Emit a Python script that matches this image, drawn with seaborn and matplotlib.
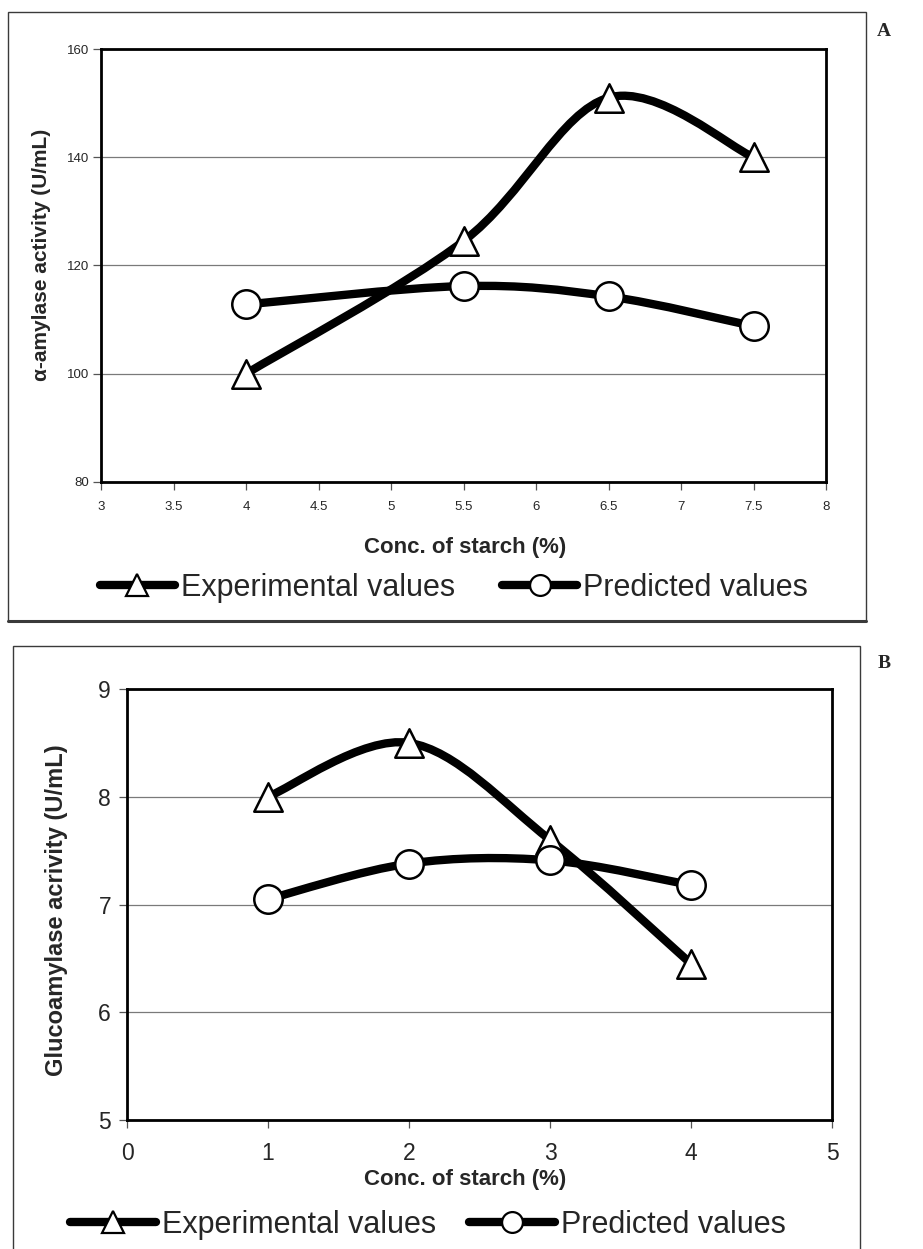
import numpy as np
import pandas as pd
import matplotlib
matplotlib.use("Agg")
import matplotlib.pyplot as plt
import seaborn as sns
from matplotlib.path import Path
from matplotlib.patches import PathPatch, Rectangle
from matplotlib.lines import Line2D

# ---- data -------------------------------------------------------------
starch_a = [4.0, 5.5, 6.5, 7.5]
amylase_exp = [100.0, 124.5, 151.0, 140.0]
amylase_pred = [112.8, 116.2, 114.3, 108.8]

starch_b = [1.0, 2.0, 3.0, 4.0]
gluco_exp = [8.0, 8.5, 7.6, 6.45]
gluco_pred = [7.05, 7.38, 7.41, 7.18]

xticks_a = [3, 3.5, 4, 4.5, 5, 5.5, 6, 6.5, 7, 7.5, 8]
xticklabels_a = ["3", "3.5", "4", "4.5", "5", "5.5", "6", "6.5", "7", "7.5", "8"]
yticks_a = [80, 100, 120, 140, 160]
xticks_b = [0, 1, 2, 3, 4, 5]
yticks_b = [5, 6, 7, 8, 9]

series_names = ["Experimental values", "Predicted values"]

# ---- style ------------------------------------------------------------
sns.set_theme(style="white")
plt.rcParams["font.family"] = ["Liberation Sans", "DejaVu Sans"]

W, H = 923, 1249
fig = plt.figure(figsize=(W / 100, H / 100), dpi=100)

LINE_W = 6.0      # curve width, points
MARK_S = 420      # marker area
MARK_EW = 1.8


def smooth_path(xs, ys, t=1.0 / 6.0):
    """Cubic Bezier path through the points (Catmull-Rom style smoothing)."""
    p = np.column_stack([xs, ys]).astype(float)
    n = len(p)
    verts = [p[0]]
    codes = [Path.MOVETO]
    for i in range(n - 1):
        p_prev = p[i - 1] if i > 0 else p[i]
        p_next2 = p[i + 2] if i + 2 < n else p[i + 1]
        c1 = p[i] + (p[i + 1] - p_prev) * t
        c2 = p[i + 1] - (p_next2 - p[i]) * t
        verts += [c1, c2, p[i + 1]]
        codes += [Path.CURVE4] * 3
    return Path(verts, codes)


def px_axes(left, top, right, bottom):
    return fig.add_axes([left / W, 1 - bottom / H, (right - left) / W, (bottom - top) / H])


def draw_panel(ax, xs, exp, pred, xlim, ylim, xticks, xticklabels, yticks,
               tick_fs, xpad, ypad, ylabel, ylabel_fs, ylabel_xy, xlabel_fs, xlabel_xy):
    df = pd.DataFrame({"x": xs, "exp": exp, "pred": pred})
    for col in ["exp", "pred"]:
        ax.add_patch(PathPatch(smooth_path(df["x"], df[col]), fill=False,
                               edgecolor="black", lw=LINE_W, capstyle="round",
                               joinstyle="round", zorder=3))
    sns.scatterplot(data=df, x="x", y="exp", marker="^", s=MARK_S, color="white",
                    edgecolor="black", linewidth=MARK_EW, zorder=4, ax=ax, legend=False)
    sns.scatterplot(data=df, x="x", y="pred", marker="o", s=MARK_S, color="white",
                    edgecolor="black", linewidth=MARK_EW, zorder=4, ax=ax, legend=False)
    ax.set_xlim(*xlim)
    ax.set_ylim(*ylim)
    ax.set_xticks(xticks)
    ax.set_xticklabels(xticklabels)
    ax.set_yticks(yticks)
    ax.grid(axis="y", color="#7a7a7a", lw=0.9)
    ax.grid(axis="x", visible=False)
    ax.set_axisbelow(True)
    for s in ax.spines.values():
        s.set_visible(True)
        s.set_color("black")
        s.set_linewidth(2.0)
    ax.tick_params(axis="both", which="major", direction="out", length=5.5, width=0.9,
                   color="#555555", labelsize=tick_fs, bottom=True, left=True)
    ax.tick_params(axis="x", pad=xpad)
    ax.tick_params(axis="y", pad=ypad)
    ax.set_xlabel("Conc. of starch (%)", fontsize=xlabel_fs, fontweight="bold")
    ax.set_ylabel(ylabel, fontsize=ylabel_fs, fontweight="bold")
    ax.yaxis.set_label_coords(*ylabel_xy)
    ax.yaxis.label.set_va("center")
    ax.xaxis.set_label_coords(*xlabel_xy)
    ax.xaxis.label.set_va("center")


# ---- panel A ----------------------------------------------------------
ax_a = px_axes(101, 49, 826, 482)
draw_panel(ax_a, starch_a, amylase_exp, amylase_pred, (3, 8), (80, 160),
           xticks_a, xticklabels_a, yticks_a, tick_fs=9.5, xpad=8, ypad=3,
           ylabel="\u03b1-amylase activity (U/mL)", ylabel_fs=15,
           ylabel_xy=((42 - 101) / 725, (482 - 255) / 433), xlabel_fs=16,
           xlabel_xy=(0.502, (482 - 548) / 433))

# ---- panel B ----------------------------------------------------------
ax_b = px_axes(127, 689, 832, 1120)
draw_panel(ax_b, starch_b, gluco_exp, gluco_pred, (0, 5), (5, 9),
           xticks_b, [str(v) for v in xticks_b], yticks_b, tick_fs=16.5, xpad=10, ypad=6,
           ylabel="Glucoamylase acrivity (U/mL)", ylabel_fs=17,
           ylabel_xy=((57 - 127) / 705, (1120 - 910) / 431), xlabel_fs=16,
           xlabel_xy=(0.48, (1120 - 1179) / 431))

# ---- legends ----------------------------------------------------------
def legend_handles():
    return [
        Line2D([], [], color="black", lw=LINE_W, marker="^", markersize=16,
               markerfacecolor="white", markeredgecolor="black", markeredgewidth=1.6),
        Line2D([], [], color="black", lw=LINE_W, marker="o", markersize=15,
               markerfacecolor="white", markeredgecolor="black", markeredgewidth=1.6),
    ]


legend_specs = [
    # centre (px), handle length, column spacing
    ((454, 588), 2.45, 1.55),
    ((428, 1225), 2.8, 1.1),
]
for (cx, cy), hlen, colsp in legend_specs:
    fig.legend(legend_handles(), series_names, loc="center",
               bbox_to_anchor=(cx / W, 1 - cy / H), ncol=2, frameon=False,
               fontsize=22, handlelength=hlen, handletextpad=0.2,
               columnspacing=colsp, numpoints=1, borderpad=0)

# ---- panel frames and tags -------------------------------------------
fig.add_artist(Rectangle((8 / W, 1 - 621 / H), (866 - 8) / W, (621 - 12) / H,
                         transform=fig.transFigure, fill=False,
                         edgecolor="#3a3a3a", lw=1.0))
fig.add_artist(Line2D([8 / W, 866 / W], [1 - 621 / H, 1 - 621 / H],
                      transform=fig.transFigure, color="#3a3a3a", lw=2.2))
fig.add_artist(Rectangle((13 / W, 1 - 1260 / H), (860 - 13) / W, (1260 - 646) / H,
                         transform=fig.transFigure, fill=False,
                         edgecolor="#3a3a3a", lw=1.0))

fig.text(884 / W, 1 - 32 / H, "A", fontsize=14, fontweight="bold",
         family=["Liberation Serif", "DejaVu Serif"], ha="center", va="center")
fig.text(884 / W, 1 - 664 / H, "B", fontsize=14, fontweight="bold",
         family=["Liberation Serif", "DejaVu Serif"], ha="center", va="center")

fig.savefig("out.png", dpi=100, facecolor="white")
